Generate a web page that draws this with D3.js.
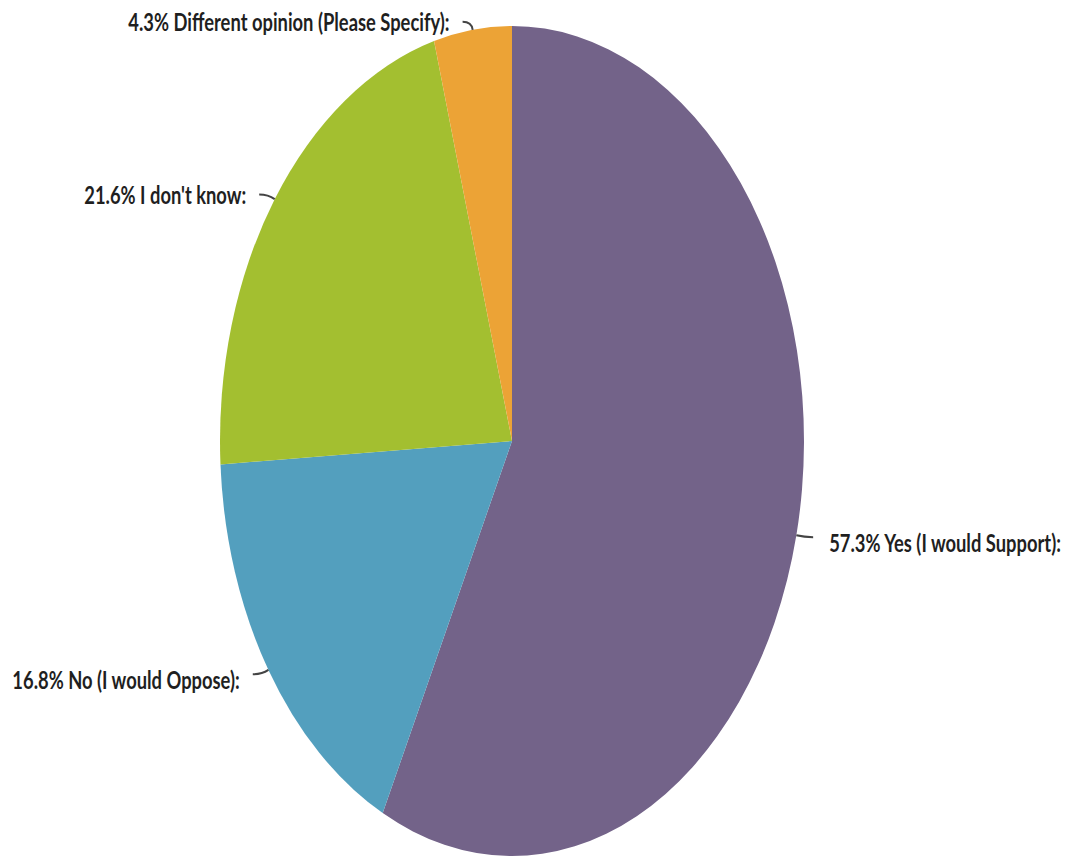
<!DOCTYPE html>
<html>
<head>
<meta charset="utf-8">
<script src="https://cdn.jsdelivr.net/npm/d3@7"></script>
<style>
  html, body { margin: 0; padding: 0; background: #fff; }
  svg { display: block; }
  text { font-family: Lato, "Open Sans", sans-serif; font-weight: 700; fill: #1f1f1f; }
</style>
</head>
<body>
<svg id="chart" width="1074" height="856"></svg>
<script>
// Survey answers, in drawing order (clockwise from 12 o'clock)
const categories = [
  "Yes (I would Support):",
  "No (I would Oppose):",
  "I don't know:",
  "Different opinion (Please Specify):"
];
const shares = [57.3, 16.8, 21.6, 4.3];
const colors = ["#736389", "#539fbe", "#a3bf30", "#eca336"];

const W = 1074, H = 856;
const cx = 512, cy = 441;
const ry = 415;             // vertical radius
const rx = 292;             // horizontal radius (the pie is stretched vertically)
const sx = rx / ry;
const textSx = 0.765;       // horizontal squeeze applied to label text

const svg = d3.select("#chart");

const pie = d3.pie().sort(null).value(d => d.v);
const data = pie(shares.map((v, i) => ({ v, name: categories[i], color: colors[i] })));
const arc = d3.arc().innerRadius(0).outerRadius(ry);

const pieG = svg.append("g")
  .attr("transform", `translate(${cx},${cy}) scale(${sx},1)`);

pieG.selectAll("path.slice")
  .data(data)
  .join("path")
  .attr("class", "slice")
  .attr("d", arc)
  .attr("fill", d => d.data.color);

// Leader lines and labels
const fontSize = 24;
const labelG = svg.append("g");

data.forEach(d => {
  const a = (d.startAngle + d.endAngle) / 2;
  const s = Math.sin(a), c = -Math.cos(a);
  const right = s > 0;
  const ex = cx + rx * s, ey = cy + ry * c;
  const qx = ex + 8 * s, qy = ey + 8 * c;
  const tx = qx + (right ? 9 : -9), ty = qy;
  labelG.append("path")
    .attr("d", `M${ex},${ey} Q${qx},${qy} ${tx},${ty}`)
    .attr("fill", "none")
    .attr("stroke", "#444")
    .attr("stroke-width", 2);

  const lx = tx + (right ? 16 : -13);
  const ly = ty + (c > 0 ? 15 : 9);
  labelG.append("text")
    .attr("transform", `translate(${lx},${ly}) scale(${textSx},1)`)
    .attr("text-anchor", right ? "start" : "end")
    .attr("font-size", fontSize)
    .text(`${d.data.v.toFixed(1)}% ${d.data.name}`);
});
</script>
</body>
</html>
